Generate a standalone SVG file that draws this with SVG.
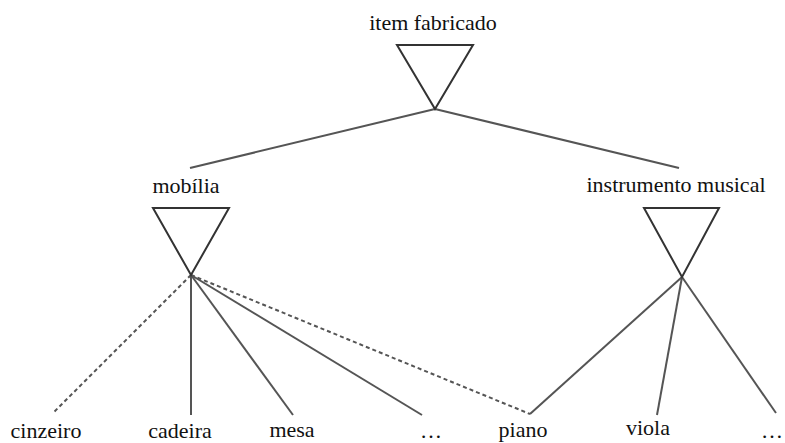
<svg xmlns="http://www.w3.org/2000/svg" width="785" height="443" viewBox="0 0 785 443">
<style>
text{font-family:"Liberation Serif","Times New Roman",serif;font-size:22px;fill:#111;text-anchor:middle}
.tri{fill:none;stroke:#333;stroke-width:2;stroke-linejoin:miter}
.c{stroke:#555;stroke-width:2;fill:none}
.d{stroke:#555;stroke-width:2;fill:none;stroke-dasharray:4,3}
</style>
<rect width="785" height="443" fill="#fff"/>
<g id="connectors">
<line class="c" x1="435" y1="109" x2="190" y2="168"/>
<line class="c" x1="435" y1="109" x2="679" y2="168"/>
<line class="d" x1="191" y1="275" x2="53" y2="413"/>
<line class="c" x1="191" y1="275" x2="191" y2="415"/>
<line class="c" x1="191" y1="275" x2="293" y2="415"/>
<line class="c" x1="191" y1="275" x2="422" y2="415"/>
<line class="d" x1="191" y1="275" x2="530" y2="414"/>
<line class="c" x1="682" y1="277" x2="530" y2="414"/>
<line class="c" x1="682" y1="277" x2="657" y2="415"/>
<line class="c" x1="682" y1="277" x2="776" y2="413"/>
</g>
<g id="item-fabricado">
<text x="433" y="30">item fabricado</text>
<polygon class="tri" points="397,45 473,45 435,109"/>
</g>
<g id="mobilia">
<text x="186" y="193">mobília</text>
<polygon class="tri" points="153,208 229,208 191,275"/>
</g>
<g id="instrumento-musical">
<text x="676" y="192">instrumento musical</text>
<polygon class="tri" points="644,208 719,208 682,277"/>
</g>
<g id="cinzeiro"><text x="46" y="438">cinzeiro</text></g>
<g id="cadeira"><text x="180" y="438">cadeira</text></g>
<g id="mesa"><text x="292" y="437">mesa</text></g>
<g id="etc1"><text x="431" y="438">…</text></g>
<g id="piano"><text x="523" y="437">piano</text></g>
<g id="viola"><text x="648" y="435">viola</text></g>
<g id="etc2"><text x="772" y="438">…</text></g>
</svg>
